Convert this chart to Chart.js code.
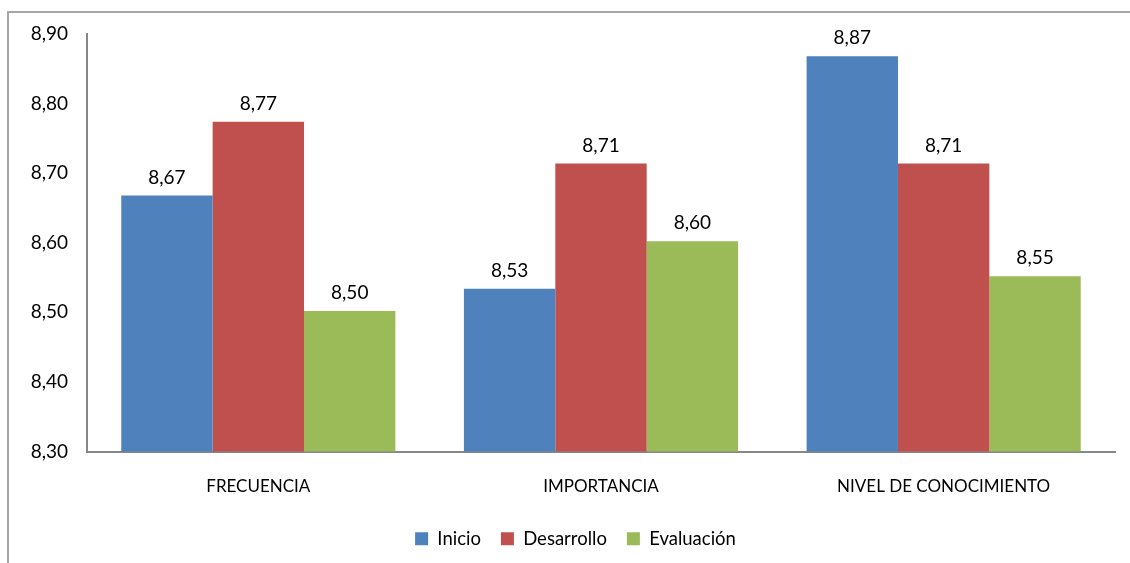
<!DOCTYPE html>
<html>
<head>
<meta charset="utf-8">
<script src="https://cdn.jsdelivr.net/npm/chart.js@4.4.1/dist/chart.umd.min.js"></script>
<style>
  html, body { margin: 0; padding: 0; background: #fff; }
  #wrap { width: 1130px; height: 563px; position: relative; }
</style>
</head>
<body>
<div id="wrap"><canvas id="chart" width="1130" height="563"></canvas></div>
<script>
const categories = ['FRECUENCIA', 'IMPORTANCIA', 'NIVEL DE CONOCIMIENTO'];
const seriesNames = ['Inicio', 'Desarrollo', 'Evaluación'];
const inicio = [8.668, 8.534, 8.868];
const desarrollo = [8.774, 8.714, 8.714];
const evaluacion = [8.502, 8.602, 8.552];
const yMin = 8.3;
const yMax = 8.9;
const yStep = 0.1;

const FONT = 'Lato, "Open Sans", sans-serif';
const fmt = v => v.toFixed(2).replace('.', ',');

// frame around the chart (cut off on the right and bottom in the reference)
const framePlugin = {
    id: 'frame',
    beforeDraw(chart) {
        const ctx = chart.ctx;
        ctx.save();
        ctx.strokeStyle = '#a6a6a6';
        ctx.lineWidth = 2;
        ctx.beginPath();
        ctx.moveTo(8, 563);
        ctx.lineTo(8, 12);
        ctx.lineTo(1130, 12);
        ctx.stroke();
        ctx.restore();
    }
};

// the original legend sits a bit right of the canvas centre
const legendShift = {
    id: 'legendShift',
    afterLayout(chart) {
        if (chart.legend) {
            chart.legend.left += 18;
            chart.legend.right += 18;
        }
    }
};

// value labels above each bar
const valueLabels = {
    id: 'valueLabels',
    afterDatasetsDraw(chart) {
        const ctx = chart.ctx;
        ctx.save();
        ctx.font = '19px ' + FONT;
        ctx.fillStyle = '#000';
        ctx.textAlign = 'center';
        ctx.textBaseline = 'middle';
        chart.data.datasets.forEach((ds, i) => {
            chart.getDatasetMeta(i).data.forEach((bar, j) => {
                ctx.fillText(fmt(ds.data[j]), bar.x, bar.y - 18);
            });
        });
        ctx.restore();
    }
};

new Chart(document.getElementById('chart'), {
    type: 'bar',
    data: {
        labels: categories,
        datasets: [
            { label: seriesNames[0], data: inicio, backgroundColor: '#4F81BD' },
            { label: seriesNames[1], data: desarrollo, backgroundColor: '#C0504D' },
            { label: seriesNames[2], data: evaluacion, backgroundColor: '#9BBB59' }
        ]
    },
    options: {
        responsive: false,
        animation: false,
        devicePixelRatio: 1,
        categoryPercentage: 0.8,
        barPercentage: 1.0,
        layout: { padding: { top: 34, right: 15, left: 0, bottom: 5 } },
        plugins: {
            legend: {
                position: 'bottom',
                labels: {
                    boxWidth: 13,
                    boxHeight: 13,
                    padding: 20,
                    color: '#000',
                    font: { family: FONT, size: 18.5 }
                }
            },
            tooltip: { enabled: false }
        },
        scales: {
            x: {
                grid: { display: false, drawTicks: false },
                border: { color: '#878787', width: 2 },
                ticks: { color: '#000', padding: 25, font: { family: FONT, size: 17 } },
                afterFit(scale) { scale.height = 58; }
            },
            y: {
                min: yMin,
                max: yMax,
                grid: { display: false, drawTicks: false },
                border: { color: '#878787', width: 2 },
                ticks: {
                    stepSize: yStep,
                    color: '#000',
                    padding: 19,
                    font: { family: FONT, size: 19 },
                    callback: v => fmt(v)
                },
                afterFit(scale) { scale.width = 87; }
            }
        }
    },
    plugins: [framePlugin, legendShift, valueLabels]
});
</script>
</body>
</html>
